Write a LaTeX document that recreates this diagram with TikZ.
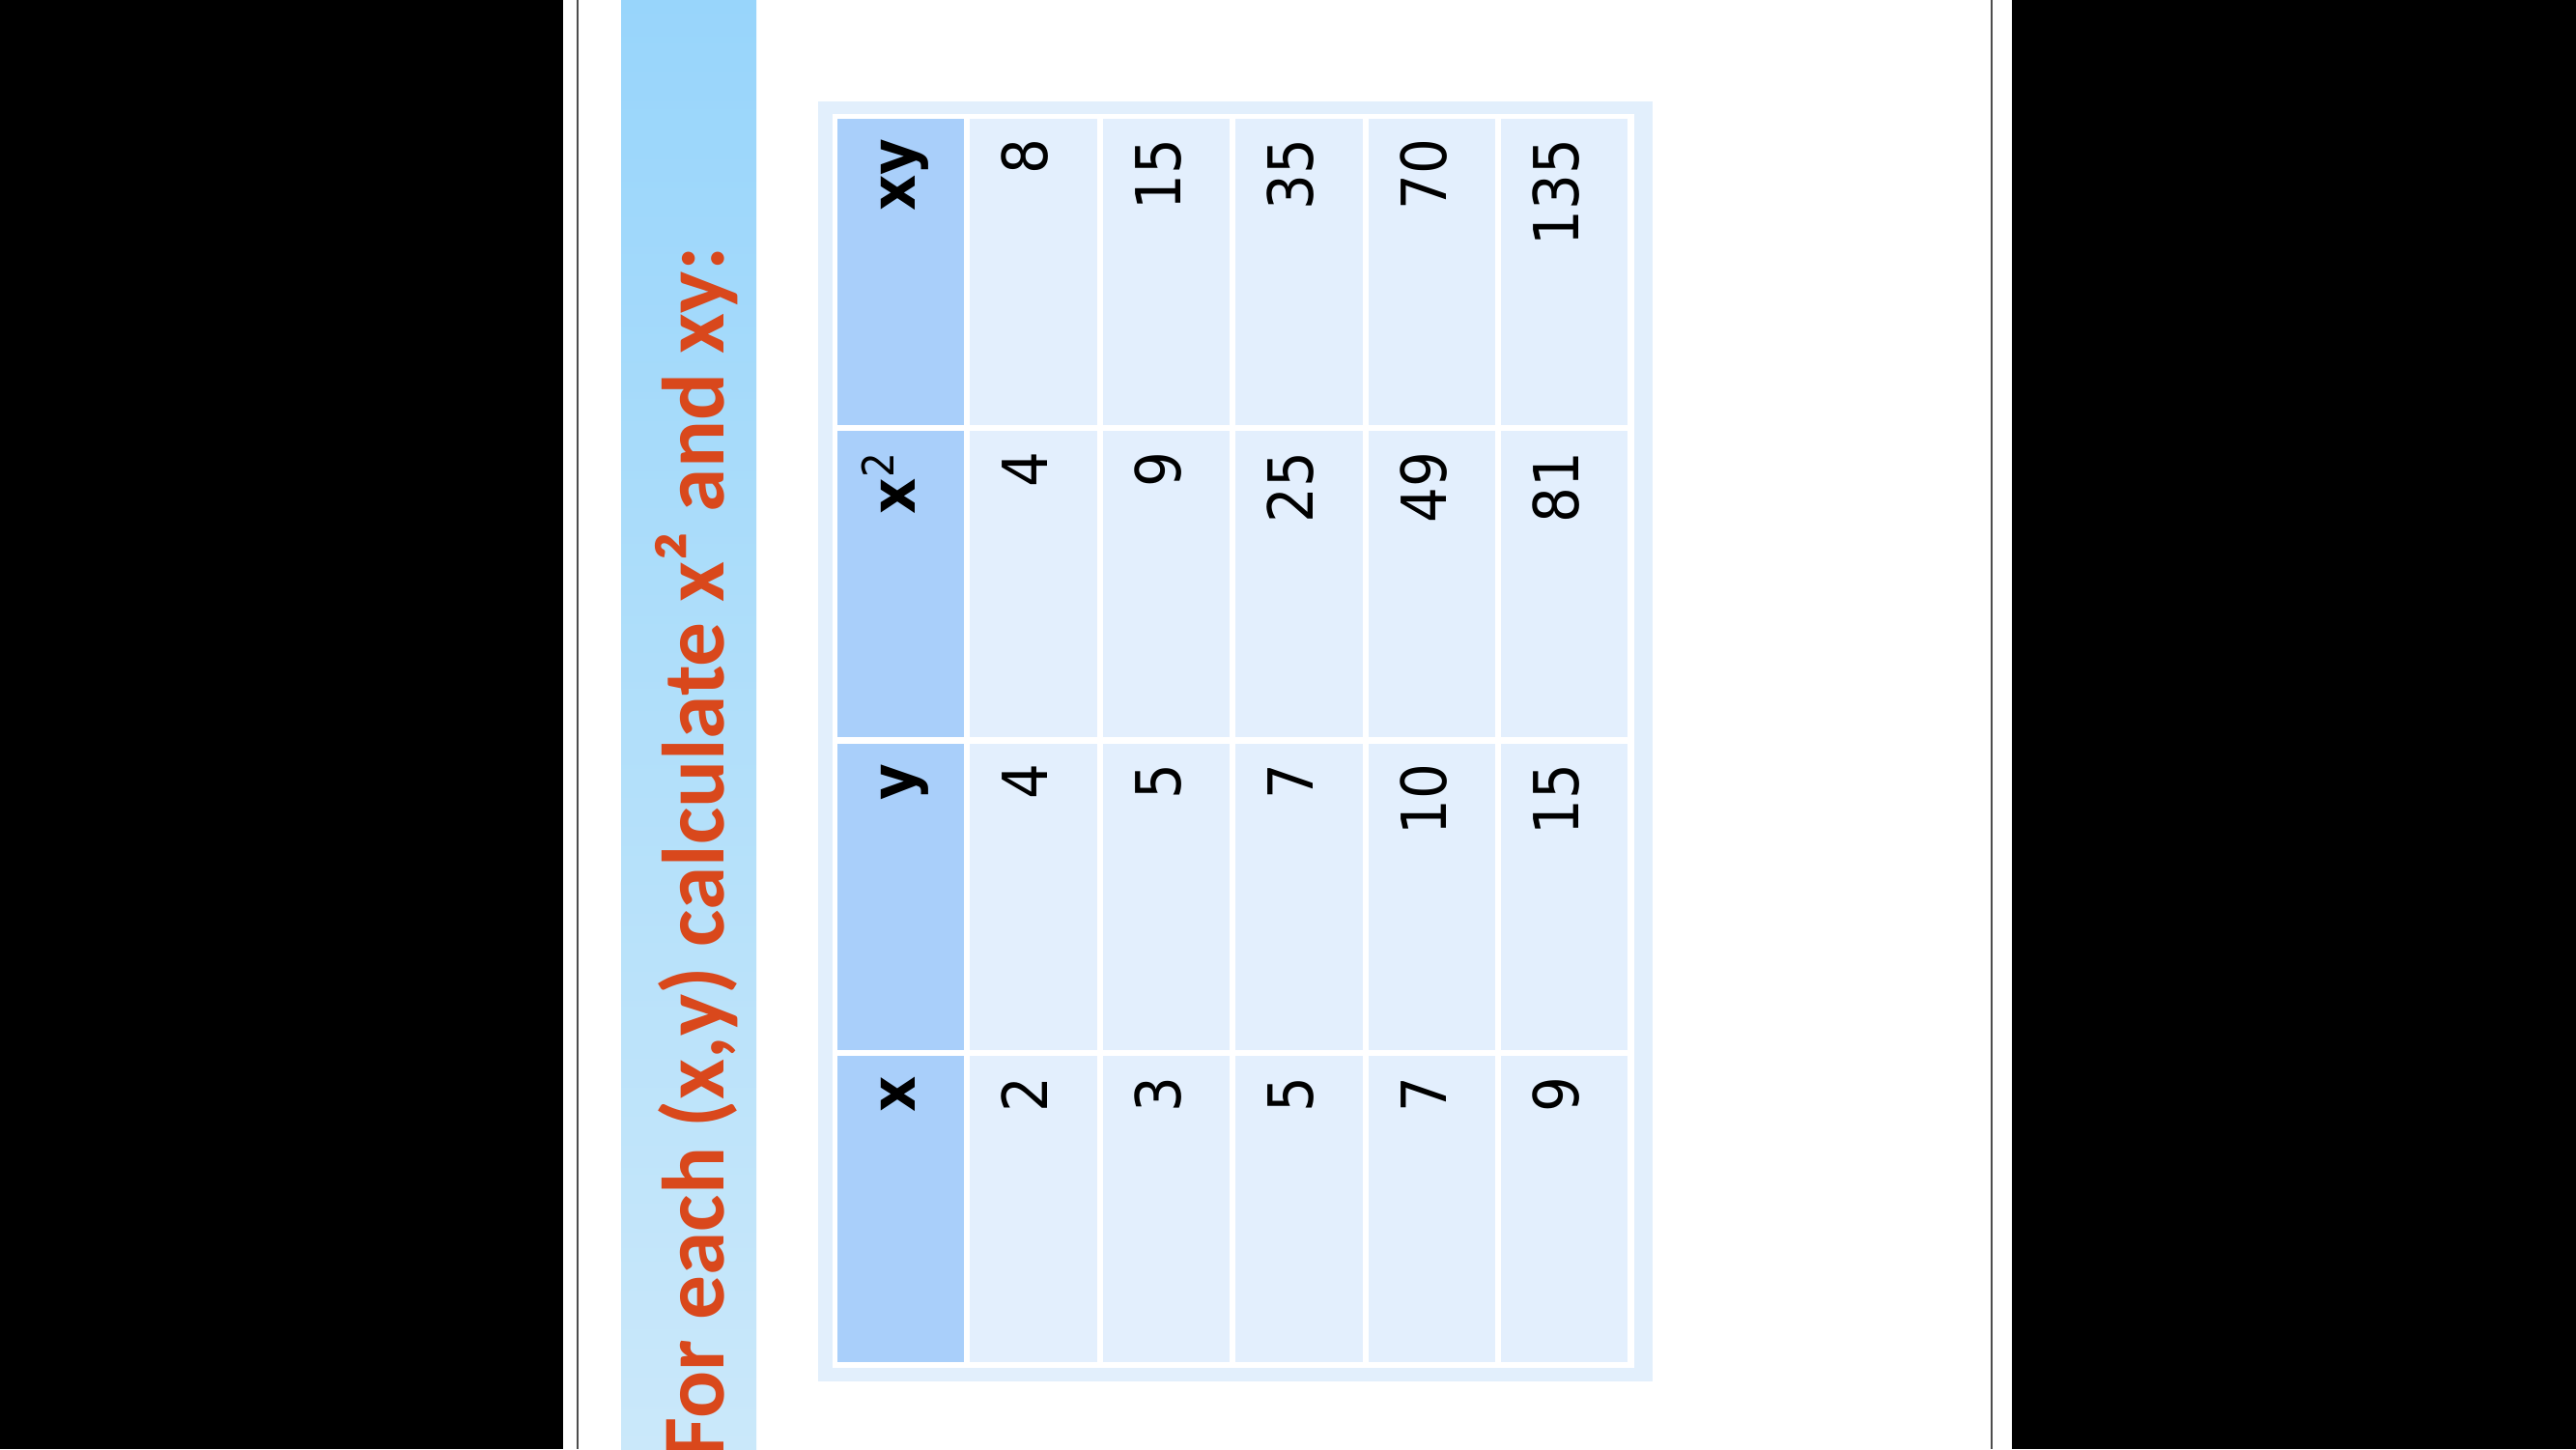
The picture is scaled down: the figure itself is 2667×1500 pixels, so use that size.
\documentclass[tikz,border=0pt]{standalone}
\usepackage{fontspec}
\setmainfont{DejaVu Sans Condensed}
\newfontfamily\titlefont{Carlito}
\usepackage[HTML]{xcolor}
\usepackage{tikz}
\usetikzlibrary{positioning}

\definecolor{barTop}{HTML}{98D5FB}
\definecolor{barBot}{HTML}{CAE8FA}
\definecolor{titleRed}{HTML}{D9481C}
\definecolor{tabEdge}{HTML}{E2EFFC}
\definecolor{headBlue}{HTML}{A9CFFA}
\definecolor{cellBlue}{HTML}{E3EFFD}

\tikzset{
  cellbox/.style={rotate=90, minimum height=1.314cm, inner ysep=0pt, inner xsep=0.21cm,
    text width=2.745cm, align=right, text height=0.84em, text depth=0pt,
    font=\fontsize{18.3}{20}\selectfont},
  headcell/.style={cellbox, fill=headBlue, font=\fontsize{18.3}{20}\selectfont\bfseries},
  datacell/.style={cellbox, fill=cellBlue},
}

\begin{document}
\begin{tikzpicture}[x=0.01cm, y=-0.01cm]
\useasboundingbox (0,0) rectangle (2667,1500);
% page and side bands
\fill[white] (0,0) rectangle (2667,1500);
\fill[black] (0,0) rectangle (583,1500);
\fill[black] (2083,0) rectangle (2667,1500);
\draw[black!70, line width=0.02cm] (598,0) -- (598,1500);
\draw[black!70, line width=0.02cm] (2062,0) -- (2062,1500);

% title bar
\shade[top color=barTop, bottom color=barBot] (643,0) rectangle (783,1500);
\begin{scope}
\clip (643,0) rectangle (783,1500);
\node[rotate=90, anchor=base east, inner sep=0pt, text=titleRed,
  font=\titlefont\bfseries\fontsize{26}{30}\selectfont] (title) at (749,255)
  {For each (x,y) calculate x² and xy:};
\end{scope}

% table frame
\fill[tabEdge] (847,105) rectangle (1711,1430);
\fill[white] (862,118) rectangle (1692,1416);

% header cells
\node[headcell] (hxy) at (932.7,281.25)  {xy};
\node[headcell] (hxx) at (932.7,604.75)  {x\textsuperscript{\mdseries 2}};
\node[headcell] (hy)  at (932.7,928.25)  {y};
\node[headcell] (hx)  at (932.7,1251.75) {x};

% data cells
\foreach \vxy/\vxx/\vy/\vx [count=\c] in {8/4/4/2, 15/9/5/3, 35/25/7/5, 70/49/10/7, 135/81/15/9} {
  \node[datacell] (xy\c) at (932.7+\c*137.4,281.25)  {\vxy};
  \node[datacell] (xx\c) at (932.7+\c*137.4,604.75)  {\vxx};
  \node[datacell] (y\c)  at (932.7+\c*137.4,928.25)  {\vy};
  \node[datacell] (x\c)  at (932.7+\c*137.4,1251.75) {\vx};
}
\end{tikzpicture}
\end{document}
